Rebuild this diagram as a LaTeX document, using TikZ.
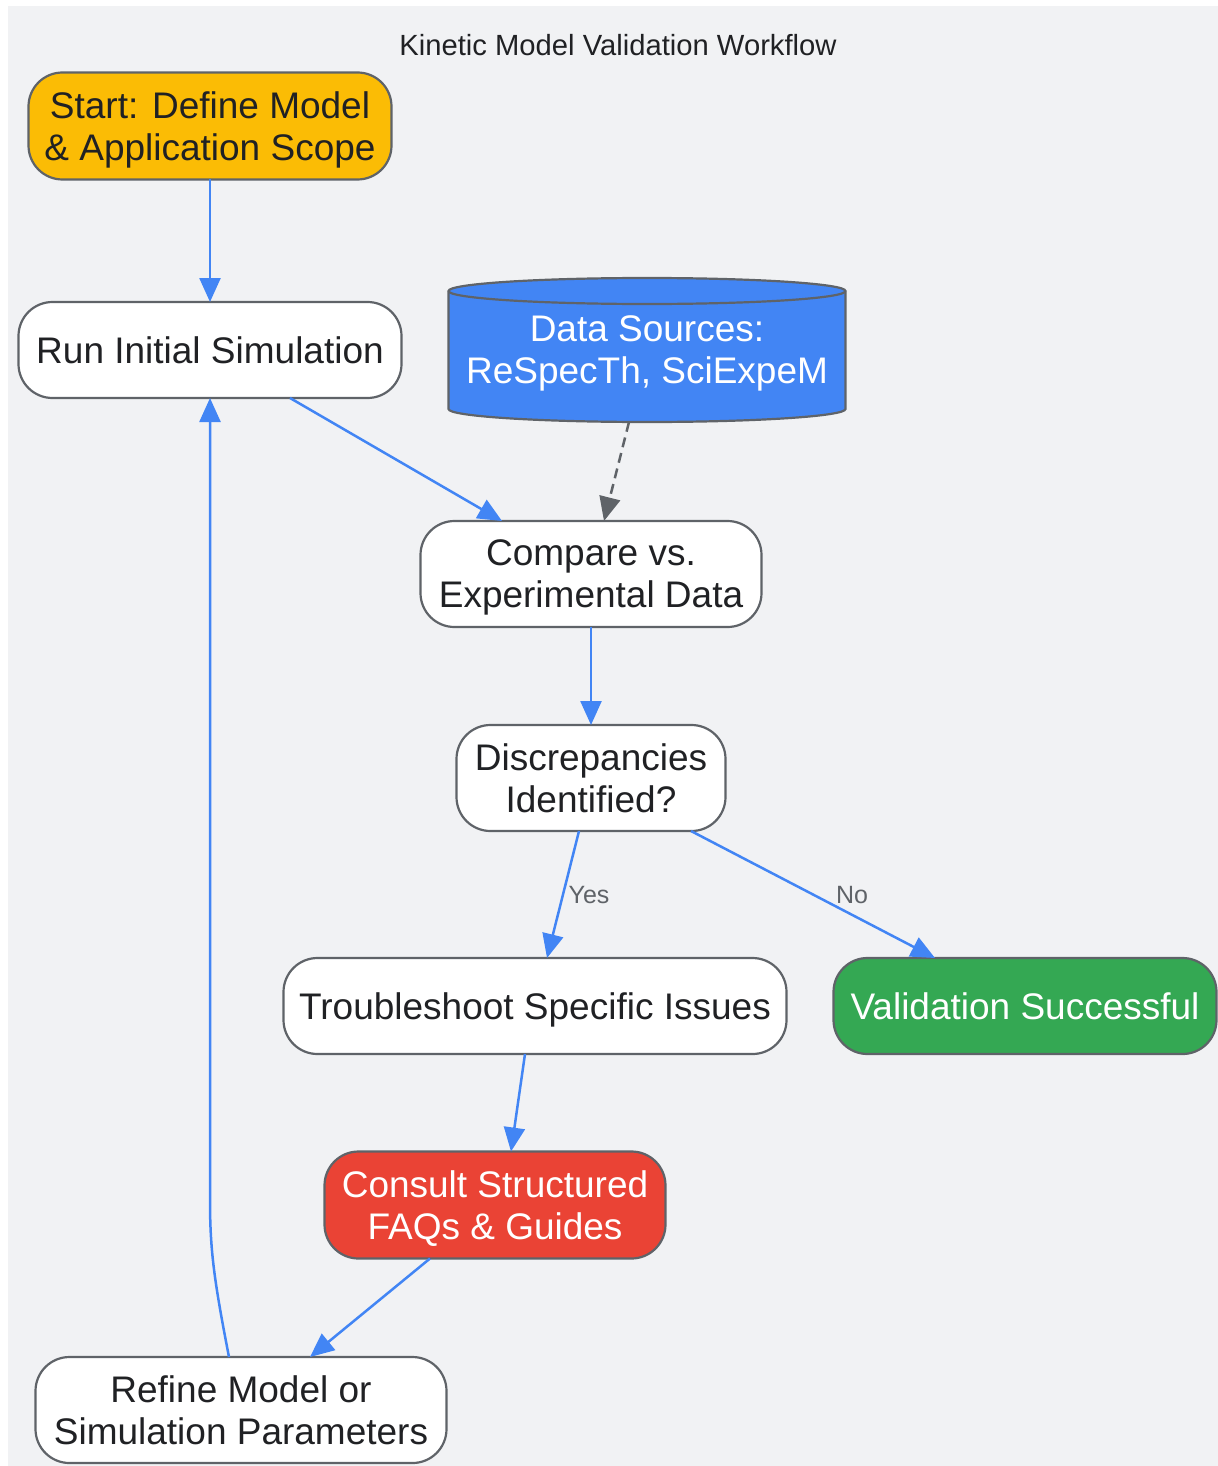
\documentclass[tikz,border=0pt]{standalone}
\usepackage{fontspec}
\setmainfont{Liberation Sans}
\usetikzlibrary{arrows.meta,backgrounds}

\definecolor{bggrey}{HTML}{F1F2F4}
\definecolor{edgegrey}{HTML}{5F6368}
\definecolor{inkdark}{HTML}{202124}
\definecolor{gblue}{HTML}{4285F4}
\definecolor{gamber}{HTML}{FBBC05}
\definecolor{ggreen}{HTML}{34A853}
\definecolor{gred}{HTML}{EA4335}

\begin{document}
\begin{tikzpicture}[x=0.5pt,y=-0.5pt]
    \tikzset{
        box/.style={draw=edgegrey, line width=1.1pt, fill=white, rounded corners=17pt,
            inner sep=0pt, outer sep=0pt, align=center, text=inkdark, text depth=-3.5pt,
            font=\fontsize{18.5pt}{21pt}\selectfont},
        flow/.style={draw=gblue, line width=1.25pt, -{Triangle[length=12pt,width=10.5pt]}},
        feed/.style={draw=edgegrey, line width=1.25pt, dash pattern=on 5pt off 3pt,
            -{Triangle[length=12pt,width=10.5pt]}},
        lbl/.style={text=edgegrey, font=\fontsize{12.5pt}{15pt}\selectfont}
    }
    \useasboundingbox (0,0) rectangle (1218,1466);

    \node[text=inkdark, font=\fontsize{14.6pt}{17pt}\selectfont] (title) at (618,45) {Kinetic Model Validation Workflow};

    % steps of the workflow
    \node[box, fill=gamber, minimum width=181.5pt, minimum height=53.5pt] (start) at (210,126) {Start: Define Model\\\& Application Scope};
    \node[box, minimum width=191.5pt, minimum height=48pt] (run) at (210,350) {Run Initial Simulation};
    \node[align=center, text=white, inner sep=0pt, outer sep=0pt, minimum width=198.5pt, minimum height=72pt,
        text depth=-3pt, font=\fontsize{18.5pt}{21pt}\selectfont] (data) at (647,350) {Data Sources:\\ReSpecTh, SciExpeM};
    \node[box, minimum width=170.5pt, minimum height=53pt] (compare) at (591,574) {Compare vs.\\Experimental Data};
    \node[box, minimum width=134.5pt, minimum height=53pt] (disc) at (591,778) {Discrepancies\\Identified?};
    \node[box, minimum width=251.5pt, minimum height=48pt] (trouble) at (535,1006) {Troubleshoot Specific Issues};
    \node[box, fill=ggreen, text=white, minimum width=191.5pt, minimum height=48pt] (valid) at (1025,1006) {Validation Successful};
    \node[box, fill=gred, text=white, minimum width=170.5pt, minimum height=53.5pt] (consult) at (495,1205) {Consult Structured\\FAQs \& Guides};
    \node[box, minimum width=205.5pt, minimum height=53pt] (refine) at (241,1410) {Refine Model or\\Simulation Parameters};

    % background and data cylinder
    \begin{scope}[on background layer]
        \fill[bggrey] (8,6) rectangle (1218,1466);
        \filldraw[fill=gblue, draw=edgegrey, line width=1.1pt]
            ([yshift=-6.5pt]data.north west) -- ([yshift=6.5pt]data.south west)
            arc[start angle=180, end angle=360, x radius=99.25pt, y radius=6.5pt]
            -- ([yshift=-6.5pt]data.north east)
            arc[start angle=0, end angle=180, x radius=99.25pt, y radius=6.5pt] -- cycle;
        \draw[draw=edgegrey, line width=1.1pt] ([yshift=-6.5pt]data.north west)
            arc[start angle=180, end angle=360, x radius=99.25pt, y radius=6.5pt];
    \end{scope}

    % connectors
    \draw[flow] (start.south) -- (run.north);
    \draw[flow] ([xshift=40pt]run.south) -- ([xshift=-44.5pt]compare.north);
    \draw[feed] ([xshift=-9pt]data.south) -- ([xshift=6.5pt]compare.north);
    \draw[flow] (compare.south) -- (disc.north);
    \draw[flow] ([xshift=-6pt]disc.south) -- ([xshift=6pt]trouble.north);
    \draw[flow] ([xshift=50pt]disc.south) -- ([xshift=-45pt]valid.north);
    \draw[flow] ([xshift=-5pt]trouble.south) -- ([xshift=8pt]consult.north);
    \draw[flow] ([xshift=-32.5pt]consult.south) -- ([xshift=34.5pt]refine.north);
    \draw[flow] ([xshift=-6pt]refine.north) .. controls (214,1280) and (210,1250) .. (210,1200) -- (run.south);

    \node[lbl] (yes) at (589,895) {Yes};
    \node[lbl] (no) at (852,895) {No};
\end{tikzpicture}
\end{document}
